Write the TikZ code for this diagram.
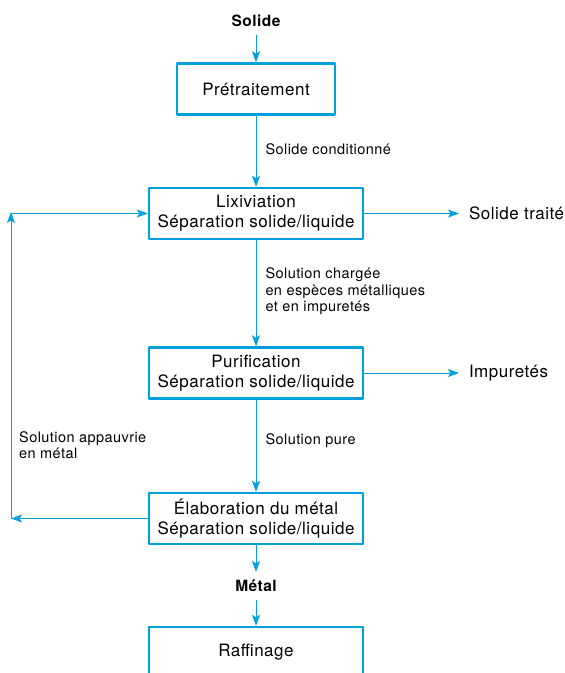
\documentclass[tikz,border=0pt]{standalone}
\usepackage{fontspec}
\setmainfont{TeX Gyre Heros}[LetterSpace=3]
\usetikzlibrary{arrows.meta,positioning}
\definecolor{flux}{RGB}{0,160,224}
\tikzset{
    etape/.style={draw=flux,line width=2.4pt,minimum width=214pt,minimum height=51pt,
        align=center,inner sep=0pt,font=\fontsize{17}{20}\selectfont},
    fleche/.style={draw=flux,line width=1pt,->},
    lbl/.style={anchor=west,align=left,inner sep=0pt,font=\fontsize{14.5}{16.5}\selectfont},
    sortie/.style={anchor=west,inner ysep=0pt,inner xsep=0pt,outer xsep=10pt,font=\fontsize{17}{20}\selectfont},
    titre/.style={font=\fontsize{15.5}{20}\selectfont\bfseries,inner sep=0pt}
}
\begin{document}
\begin{tikzpicture}[>={Stealth[length=11pt,width=8pt,inset=2.5pt]}, x=1pt, y=-1pt, line join=round]
            \def\xc{256} \def\xg{11} % axe et retour
            \useasboundingbox (0,0) rectangle (565,673);
            \clip (0,0) rectangle (565,673);
            \node[titre] (solide) at (\xc,21) {Solide};
            \node[etape,minimum width=158pt] (pre) at (\xc,89) {Prétraitement};
            \node[etape] (lix) at (\xc,213.5) {Lixiviation\\Séparation solide/liquide};
            \node[etape] (pur) at (\xc,373) {Purification\\Séparation solide/liquide};
            \node[etape] (elab) at (\xc,518.5) {Élaboration du métal\\Séparation solide/liquide};
            \node[titre] (metal) at (\xc,586) {Métal};
            \node[etape] (raf) at (\xc,652.5) {Raffinage};
            \node[sortie] (traite) at (459,213.5) {Solide traité};
            \node[sortie] (impur) at (459,373) {Impuretés};
            \coordinate (bas) at (\xg,518.5);
            \coordinate (haut) at (\xg,213.5);
            \draw[fleche] ([yshift=-8pt]solide.south) -- (pre.north);
            \draw[fleche] (pre.south) -- (lix.north) node[lbl,pos=0.47,xshift=9pt]{Solide conditionné};
            \draw[fleche] (lix.south) -- (pur.north) node[lbl,pos=0.484,xshift=9pt]{Solution chargée\\en espèces métalliques\\et en impuretés};
            \draw[fleche] (pur.south) -- (elab.north) node[lbl,pos=0.45,xshift=9pt]{Solution pure};
            \draw[fleche] (lix.east) -- (traite.west);
            \draw[fleche] (pur.east) -- (impur.west);
            \draw[fleche] (elab.west) -- (bas);
            \draw[fleche] (bas) -- ([yshift=1.5pt]haut);
            \draw[fleche] (haut) -- (lix.west);
            \node[lbl] (appauvrie) at (19,445) {Solution appauvrie\\en métal};
            \draw[fleche] (elab.south) -- ([yshift=8pt]metal.north);
            \draw[fleche] ([yshift=-8pt]metal.south) -- (raf.north);
        \end{tikzpicture}
\end{document}
